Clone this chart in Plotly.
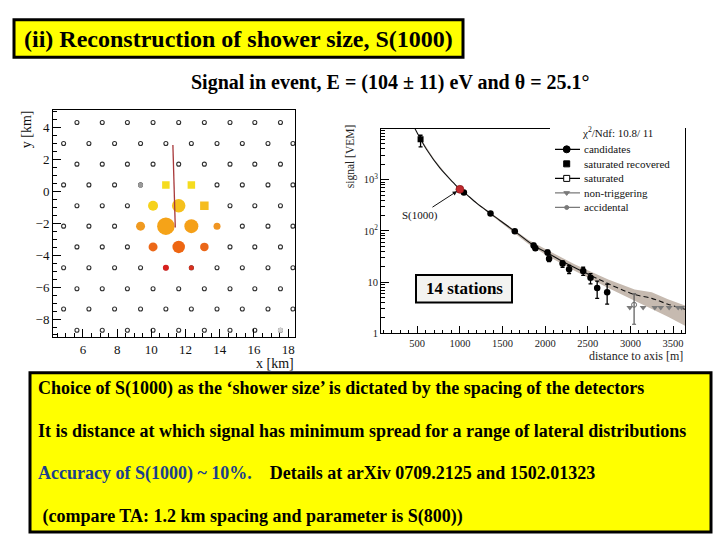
import math
import plotly.graph_objects as go

W, H = 720, 540
def px(x):
    return x / W
def py(y):
    return 1 - y / H

SERIF = "Liberation Serif, Times New Roman, serif"

# ---------------- Left panel: station map ----------------
row_y = [4.33, 3.02, 1.72, 0.42, -0.89, -2.17, -3.47, -4.78, -6.10, -7.37, -8.70]
even_row_x = [5.65, 7.13, 8.60, 10.10, 11.60, 13.10, 14.60, 16.05, 17.55]
odd_row_x = [4.87, 6.35, 7.85, 9.37, 10.85, 12.34, 13.84, 15.32, 16.82, 18.28]

grey_x = [9.37, 17.55]
grey_y = [0.42, -8.70]
grey_color = ["#9a9a9a", "#d2d2d2"]

hit_x = [10.85, 12.34, 10.10, 11.60, 13.10, 9.37, 10.85, 12.34, 13.84, 10.10, 11.60, 13.10, 10.85, 12.34]
hit_y = [0.42, 0.42, -0.89, -0.89, -0.89, -2.17, -2.17, -2.17, -2.17, -3.47, -3.47, -3.47, -4.78, -4.78]
hit_size = [7.5, 7.5, 10, 13.5, 8.5, 9, 17.5, 14, 7, 9, 12.5, 8.5, 6, 5]
hit_symbol = ["square", "square", "circle", "circle", "square", "circle", "circle",
              "circle", "circle", "circle", "circle", "circle", "circle", "circle"]
hit_color = ["#f5dc1e", "#f5dc1e", "#f6d21a", "#f5c01c", "#f5bd20", "#f09a20", "#f5a318",
             "#f5a018", "#f09522", "#ec6818", "#ee6612", "#ea6618", "#d8201e", "#d8301e"]

axis_x = [11.26, 11.40]
axis_y = [2.92, -2.25]

# ---------------- Right panel: lateral distribution ----------------
cand_r = [1047, 1359, 1644, 1865, 1885, 2028, 2046, 2204, 2281, 2446, 2532, 2610, 2727]
cand_s = [565, 218, 98, 52, 46, 38, 28.5, 23, 17.8, 16.5, 12.1, 7.7, 6.3]
cand_ep = [20, 10, 6, 5, 4.5, 4, 4, 3, 3.4, 3, 2.5, 2.7, 2.8]
cand_em = [20, 10, 6, 5, 4.5, 4, 3.5, 3.5, 3.1, 3, 2.9, 2.9, 2.6]

satrec_r = [539]
satrec_s = [6200]
satrec_ep = [1200]
satrec_em = [1800]

s1000_r = [1000]
s1000_s = [650]

acc_r = [3043]
acc_s = [3.6]
acc_ep = [2.3]
acc_em = [2.1]

nontrig_r = [2993, 3149, 3286, 3356, 3454, 3560, 3600]
nontrig_s = [3.2, 3.2, 3.2, 3.2, 3.2, 3.2, 3.2]

curve_r = [430, 460, 540, 610, 765, 920, 1000, 1050, 1200, 1350, 1470, 1645, 1880,
           2030, 2200, 2350, 2450, 2545, 2740, 2935, 3050, 3250, 3440, 3640]
curve_s = [14000, 11000, 6200, 3900, 1700, 890, 650, 565, 345, 224, 160, 98, 50,
           37, 25.5, 19, 15.9, 13.2, 9.3, 6.7, 5.7, 4.8, 3.7, 2.95]
curve_dash_from = 2545

band_r = [560, 700, 850, 1000, 1200, 1500, 1800, 2030, 2350, 2740, 3050, 3250, 3440, 3640]
band_hi = [5700, 2520, 1230, 650, 355, 152, 67, 42, 22, 11.2, 7.2, 6.3, 4.6, 3.5]
band_lo = [5200, 2360, 1190, 650, 335, 136, 56, 32.5, 16.5, 7.7, 4.4, 3.0, 2.1, 1.4]

ytick_vals = [1, 10, 100, 1000]
ytick_text = ["1", "10", "10<sup>2</sup>", "10<sup>3</sup>"]
minor_digits = [2, 3, 4, 5, 6, 7, 8, 9]
decades = [1, 10, 100, 1000]

leg_names = ["candidates", "saturated recovered", "saturated", "non-triggering", "accidental"]
leg_symbols = ["circle", "square", "square", "triangle-down", "circle"]
leg_fill = ["#000000", "#000000", "#ffffff", "#7a7a7a", "#7a7a7a"]
leg_colors = ["#000000", "#000000", "#000000", "#7a7a7a", "#7a7a7a"]
leg_lines = [True, False, True, True, True]
leg_msize = [7, 6, 6, 5, 4]

fig = go.Figure()

# ---- left panel traces ----
sx, sy = [], []
for i, yv in enumerate(row_y):
    xs = even_row_x if i % 2 == 0 else odd_row_x
    for xv in xs:
        sx.append(xv)
        sy.append(yv)
fig.add_trace(go.Scatter(x=sx, y=sy, mode="markers", xaxis="x", yaxis="y",
                         marker=dict(symbol="circle-open", size=4, color="#303030", opacity=1,
                                     line=dict(width=1.1, color="#303030")),
                         showlegend=False, hoverinfo="skip"))
fig.add_trace(go.Scatter(x=grey_x, y=grey_y, mode="markers", xaxis="x", yaxis="y",
                         marker=dict(symbol="circle", size=5, color=grey_color, opacity=1),
                         showlegend=False, hoverinfo="skip"))
fig.add_trace(go.Scatter(x=hit_x, y=hit_y, mode="markers", xaxis="x", yaxis="y",
                         marker=dict(symbol=hit_symbol, size=hit_size, color=hit_color, opacity=1,
                                     line=dict(width=0)),
                         showlegend=False, hoverinfo="skip"))
fig.add_trace(go.Scatter(x=axis_x, y=axis_y, mode="lines", xaxis="x", yaxis="y",
                         line=dict(color="#a8383a", width=1.3),
                         showlegend=False, hoverinfo="skip"))

# ---- right panel traces ----
fig.add_trace(go.Scatter(x=band_r, y=band_hi, mode="lines", xaxis="x2", yaxis="y2",
                         line=dict(width=0, color="#c6bab0"), showlegend=False, hoverinfo="skip"))
fig.add_trace(go.Scatter(x=band_r, y=band_lo, mode="lines", xaxis="x2", yaxis="y2",
                         line=dict(width=0, color="#c6bab0"), fill="tonexty",
                         fillcolor="#c6bab0", showlegend=False, hoverinfo="skip"))

solid_r = [r for r in curve_r if r <= curve_dash_from]
solid_s = [s for r, s in zip(curve_r, curve_s) if r <= curve_dash_from]
dash_r = [r for r in curve_r if r >= curve_dash_from]
dash_s = [s for r, s in zip(curve_r, curve_s) if r >= curve_dash_from]
fig.add_trace(go.Scatter(x=solid_r, y=solid_s, mode="lines", xaxis="x2", yaxis="y2",
                         line=dict(color="#111111", width=1.1, shape="spline"),
                         showlegend=False, hoverinfo="skip"))
fig.add_trace(go.Scatter(x=dash_r, y=dash_s, mode="lines", xaxis="x2", yaxis="y2",
                         line=dict(color="#111111", width=1.1, dash="5px,3px", shape="spline"),
                         showlegend=False, hoverinfo="skip"))

fig.add_trace(go.Scatter(x=cand_r, y=cand_s, mode="markers", xaxis="x2", yaxis="y2",
                         marker=dict(symbol="circle", size=6.5, color="#000000", opacity=1),
                         error_y=dict(type="data", array=cand_ep, arrayminus=cand_em,
                                      color="#000000", thickness=1.3, width=2),
                         showlegend=False, hoverinfo="skip"))
fig.add_trace(go.Scatter(x=satrec_r, y=satrec_s, mode="markers", xaxis="x2", yaxis="y2",
                         marker=dict(symbol="square", size=6, color="#000000", opacity=1),
                         error_y=dict(type="data", array=satrec_ep, arrayminus=satrec_em,
                                      color="#000000", thickness=1.3, width=2),
                         showlegend=False, hoverinfo="skip"))
fig.add_trace(go.Scatter(x=acc_r, y=acc_s, mode="markers", xaxis="x2", yaxis="y2",
                         marker=dict(symbol="circle-open", size=5, color="#6a6a6a", opacity=1,
                                     line=dict(width=1, color="#6a6a6a")),
                         error_y=dict(type="data", array=acc_ep, arrayminus=acc_em,
                                      color="#555555", thickness=1.2, width=2),
                         showlegend=False, hoverinfo="skip"))
fig.add_trace(go.Scatter(x=nontrig_r, y=nontrig_s, mode="markers", xaxis="x2", yaxis="y2",
                         marker=dict(symbol="triangle-down", size=6, color="#7a7a7a", opacity=1),
                         showlegend=False, hoverinfo="skip"))
fig.add_trace(go.Scatter(x=s1000_r, y=s1000_s, mode="markers", xaxis="x2", yaxis="y2",
                         marker=dict(symbol="circle", size=8, color="#c0282d", opacity=1,
                                     line=dict(width=0.6, color="#7a1010")),
                         showlegend=False, hoverinfo="skip"))

# ---- manual ROOT-style legend (overlay axis 3) ----
leg_y0, leg_dy = 24, 14.7
for i, (sym, fc, col, hasline, ms) in enumerate(zip(leg_symbols, leg_fill, leg_colors, leg_lines, leg_msize)):
    yy = leg_y0 + i * leg_dy
    if hasline:
        fig.add_trace(go.Scatter(x=[5, 30], y=[yy, yy], mode="lines", xaxis="x3", yaxis="y3",
                                 line=dict(color=col, width=1.2), showlegend=False, hoverinfo="skip"))
    fig.add_trace(go.Scatter(x=[16.7], y=[yy], mode="markers", xaxis="x3", yaxis="y3",
                             marker=dict(symbol=sym, size=ms, color=fc, opacity=1,
                                         line=dict(width=1, color=col)),
                             showlegend=False, hoverinfo="skip"))

annotations = []
for i, nm in enumerate(leg_names):
    annotations.append(dict(x=32, y=leg_y0 + i * leg_dy, xref="x3", yref="y3", text=nm,
                            showarrow=False, xanchor="left", yanchor="middle",
                            font=dict(family=SERIF, size=11, color="#111111")))
annotations.append(dict(x=67.5, y=6.7, xref="x3", yref="y3", text="χ<sup>2</sup>/Ndf: 10.8/ 11",
                        showarrow=False, xanchor="center", yanchor="middle",
                        font=dict(family=SERIF, size=11, color="#111111")))

# S(1000) arrow
annotations.append(dict(x=968, y=math.log10(598), xref="x2", yref="y2", text="S(1000)",
                        showarrow=True, arrowhead=2, arrowsize=0.9, arrowwidth=1, arrowcolor="#111111",
                        ax=-37, ay=24, font=dict(family=SERIF, size=11, color="#111111")))

def paper_text(x, y, text, size, color="#000000", xanchor="center", angle=0):
    return dict(x=px(x), y=py(y), xref="paper", yref="paper", text=text, textangle=angle,
                showarrow=False, xanchor=xanchor, yanchor="middle",
                font=dict(family=SERIF, size=size, color=color))

# axis titles
annotations += [
    paper_text(26.7, 131, "y [km]", 14, "#111111", angle=-90),
    paper_text(296, 368, "x [km]", 14, "#111111", xanchor="right"),
    paper_text(350, 158, "signal [VEM]", 11.5, "#222222", angle=-90),
    paper_text(685, 360, "distance to axis [m]", 12, "#222222", xanchor="right"),
]

# slide texts
annotations += [
    paper_text(238.5, 39, "<b>(ii) Reconstruction of shower size, S(1000)</b>", 24),
    paper_text(390, 83, "<b>Signal in event, E = (104 ± 11) eV and θ = 25.1°</b>", 20),
    paper_text(464, 292, "<b>14 stations</b>", 17),
]
box_lines = [
    "<b>Choice of S(1000) as the ‘shower size’ is dictated by the spacing of the detectors</b>",
    "<b>It is distance at which signal has minimum spread for a range of lateral distributions</b>",
    "<b><span style='color:#1b3f8b'>Accuracy of S(1000) ~ 10%.</span>&nbsp;&nbsp;&nbsp; Details at arXiv 0709.2125 and 1502.01323</b>",
    "<b>&nbsp;(compare TA: 1.2 km spacing and parameter is S(800))</b>",
]
box_line_y = [393, 436, 479, 522]
for t, yv in zip(box_lines, box_line_y):
    annotations.append(paper_text(36, yv, t, 18, xanchor="left"))

shapes = [
    dict(type="rect", xref="paper", yref="paper", x0=px(14), x1=px(463), y0=py(58), y1=py(20),
         fillcolor="#ffff00", line=dict(color="#000000", width=3), layer="below"),
    dict(type="rect", xref="paper", yref="paper", x0=px(30), x1=px(711), y0=py(538), y1=py(377),
         fillcolor="#ffff00", line=dict(color="#000000", width=3), layer="below"),
    dict(type="rect", xref="paper", yref="paper", x0=px(416), x1=px(512), y0=py(306), y1=py(278),
         fillcolor="#f3f3f0", line=dict(color="#000000", width=2), layer="above"),
]

minor_vals = [d * m for d in decades for m in minor_digits]

ax_common = dict(showline=True, linecolor="#000000", linewidth=1, mirror=True, showgrid=False,
                 zeroline=False, ticks="inside", tickcolor="#000000")

fig.update_layout(
    width=W, height=H, margin=dict(l=0, r=0, t=0, b=0),
    paper_bgcolor="white", plot_bgcolor="white", showlegend=False,
    xaxis=dict(domain=[px(53), px(295)], range=[4.25, 18.4], anchor="y", tick0=0, dtick=2,
               ticklen=8, tickfont=dict(family=SERIF, size=13, color="#111111"),
               minor=dict(ticks="inside", dtick=0.5, ticklen=4, tickcolor="#000000"), **ax_common),
    yaxis=dict(domain=[py(340.7), py(111.7)], range=[-9.12, 5.09], anchor="x", tick0=0, dtick=2,
               ticklen=8, tickfont=dict(family=SERIF, size=13, color="#111111"),
               minor=dict(ticks="inside", dtick=0.5, ticklen=4, tickcolor="#000000"), **ax_common),
    xaxis2=dict(domain=[px(381), px(685)], range=[75, 3640], anchor="y2", tick0=0, dtick=500,
                ticklen=7, tickfont=dict(family=SERIF, size=10.5, color="#222222"),
                minor=dict(ticks="inside", dtick=100, ticklen=3.5, tickcolor="#000000"), **ax_common),
    yaxis2=dict(domain=[py(337), py(130)], type="log", range=[0, 4], anchor="x2",
                tickmode="array", tickvals=ytick_vals, ticktext=ytick_text,
                ticklen=8, tickfont=dict(family=SERIF, size=10.5, color="#222222"),
                minor=dict(ticks="inside", tickmode="array", tickvals=minor_vals, ticklen=4,
                           tickcolor="#000000"), **ax_common),
    xaxis3=dict(domain=[px(550), px(685)], range=[0, 135], anchor="y3", visible=False),
    yaxis3=dict(domain=[py(222), py(127)], range=[95, 0], anchor="x3", visible=False),
    annotations=annotations, shapes=shapes,
)

fig.write_html("out.html", config={"displayModeBar": False, "staticPlot": True},
               post_script="document.body.style.margin='0px';document.body.style.overflow='hidden';")
